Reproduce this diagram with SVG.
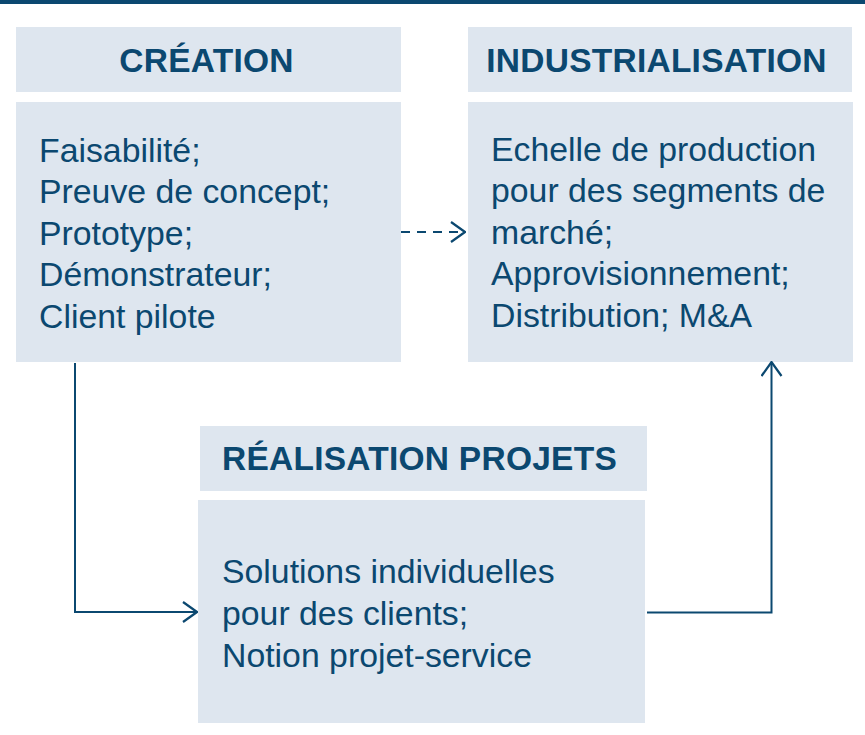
<svg xmlns="http://www.w3.org/2000/svg" width="865" height="735" viewBox="0 0 865 735">
  <style>
    .box { fill: #dee6ef; }
    .head { font-family: "Liberation Sans", Arial, sans-serif; font-weight: bold; font-size: 33.5px; letter-spacing: 0.25px; fill: #0b4870; text-anchor: middle; }
    .body { font-family: "Liberation Sans", Arial, sans-serif; font-size: 33.8px; fill: #0b4870; }
    .conn { fill: none; stroke: #0b4870; stroke-width: 2; }
    .dash { stroke-dasharray: 9 7; }
  </style>
  <defs>
    <marker id="chev" viewBox="0 0 16 22" refX="15" refY="11" markerWidth="16" markerHeight="22" markerUnits="userSpaceOnUse" orient="auto">
      <path d="M1,1 L15,11 L1,21" fill="none" stroke="#0b4870" stroke-width="2.2"/>
    </marker>
  </defs>

  <!-- top rule -->
  <rect x="0" y="0" width="865" height="4" fill="#0b4870"/>

  <g id="creation">
    <rect class="box" x="16" y="27" width="385" height="65"/>
    <text class="head" x="206.5" y="72">CRÉATION</text>
    <rect class="box" x="16" y="102" width="385" height="260"/>
    <text class="body" x="39" y="161.5">Faisabilité;</text>
    <text class="body" x="39" y="203">Preuve de concept;</text>
    <text class="body" x="39" y="244.5">Prototype;</text>
    <text class="body" x="39" y="286">Démonstrateur;</text>
    <text class="body" x="39" y="327.5">Client pilote</text>
  </g>

  <g id="industrialisation">
    <rect class="box" x="468" y="27" width="384" height="65"/>
    <text class="head" x="656.5" y="72">INDUSTRIALISATION</text>
    <rect class="box" x="468" y="102" width="385" height="260"/>
    <text class="body" x="491" y="161">Echelle de production</text>
    <text class="body" x="491" y="202">pour des segments de</text>
    <text class="body" x="491" y="243.5">marché;</text>
    <text class="body" x="491" y="285">Approvisionnement;</text>
    <text class="body" x="491" y="326.5">Distribution; M&amp;A</text>
  </g>

  <g id="realisation">
    <rect class="box" x="200" y="426" width="447" height="65"/>
    <text class="head" x="419.5" y="470">RÉALISATION PROJETS</text>
    <rect class="box" x="198" y="500" width="447" height="223"/>
    <text class="body" x="222" y="583">Solutions individuelles</text>
    <text class="body" x="222" y="625">pour des clients;</text>
    <text class="body" x="222" y="667">Notion projet-service</text>
  </g>

  <g id="connectors">
    <path class="conn dash" d="M401,232 H465" marker-end="url(#chev)"/>
    <path class="conn" d="M75,363 V612 H197" marker-end="url(#chev)"/>
    <path class="conn" d="M647,612.5 H771.5 V362" marker-end="url(#chev)"/>
  </g>
</svg>
